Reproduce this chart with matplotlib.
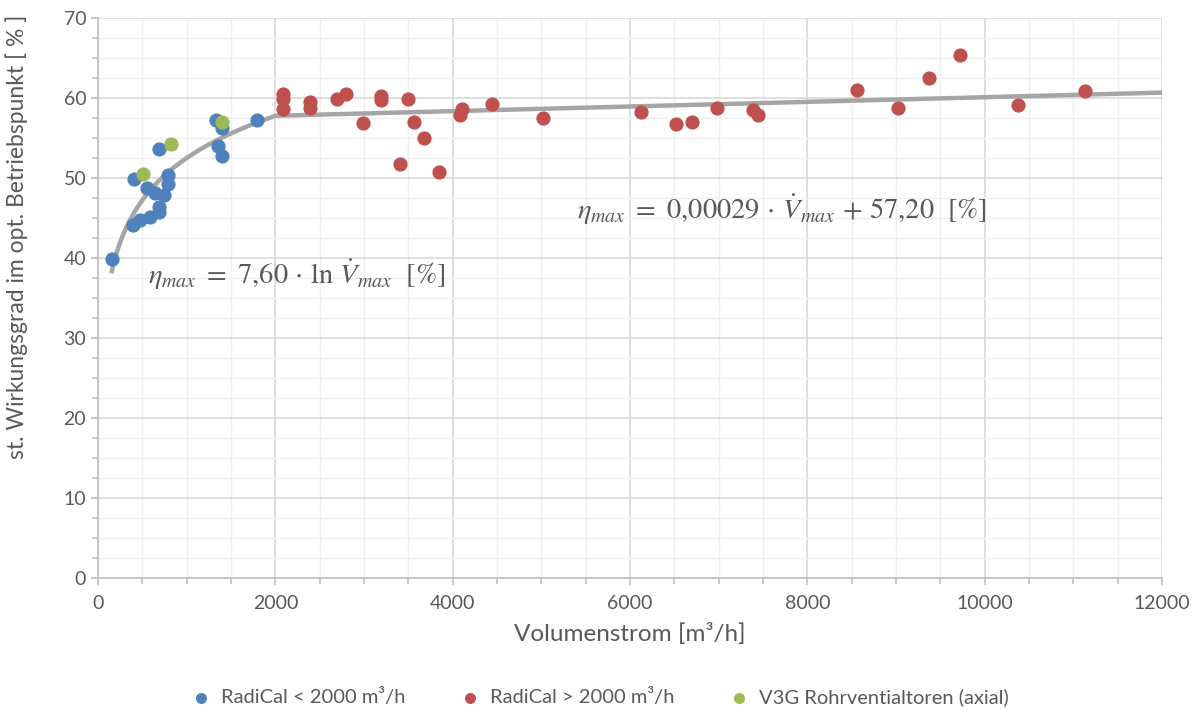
import matplotlib.pyplot as plt
import numpy as np
from matplotlib.ticker import MultipleLocator

plt.rcParams['font.family'] = ['Lato', 'DejaVu Sans']
plt.rcParams['mathtext.fontset'] = 'stix'

# Messpunkte: Volumenstrom [m³/h] und Wirkungsgrad [%]
radical_small_v = [154, 391, 410, 474, 549, 586, 643, 692, 692, 688, 744, 793, 793,
                   1331, 1350, 1395, 1395, 1790]
radical_small_eta = [39.9, 44.1, 49.9, 44.7, 48.8, 45.1, 48.1, 46.4, 45.7, 53.6, 47.9, 50.4, 49.3,
                     57.3, 54.0, 56.2, 52.8, 57.3]

radical_large_v = [2090, 2090, 2090, 2391, 2391, 2692, 2797, 2992, 3192, 3192, 3406, 3493,
                   3564, 3677, 3849, 4083, 4101, 4440, 5015, 6128, 6520, 6700, 6982, 7386,
                   7438, 8561, 9017, 9367, 9721, 10374, 11131]
radical_large_eta = [60.5, 59.9, 58.6, 59.5, 58.7, 59.9, 60.5, 56.9, 60.2, 59.8, 51.7, 59.9,
                     57.0, 55.0, 50.8, 57.9, 58.6, 59.2, 57.5, 58.2, 56.8, 57.0, 58.8, 58.5,
                     57.9, 61.0, 58.7, 62.5, 65.4, 59.1, 60.9]

v3g_v = [503, 823, 1395]
v3g_eta = [50.5, 54.2, 57.0]

# Ausgleichskurven
log_coef = 7.60
lin_slope = 0.00029
lin_offset = 57.20
v_start, v_break, v_end = 150, 2000, 12000

fig = plt.figure(figsize=(12.01, 7.10), dpi=100)
ax = fig.add_axes([0.0816, 0.186, 0.886, 0.7886])

v_log = np.linspace(v_start, v_break, 200)
v_lin = np.array([v_break, v_end])
v_fit = np.concatenate([v_log, v_lin])
eta_fit = np.concatenate([log_coef * np.log(v_log), lin_slope * v_lin + lin_offset])
ax.plot(v_fit, eta_fit, color='#A5A5A5', lw=3.2, zorder=2, solid_capstyle='butt')

ax.scatter(radical_small_v, radical_small_eta, s=85, color='#4F81BD', zorder=3,
           label='RadiCal < 2000 m³/h')
ax.scatter(radical_large_v, radical_large_eta, s=85, color='#C0504D', zorder=3,
           label='RadiCal > 2000 m³/h')
ax.scatter(v3g_v, v3g_eta, s=85, color='#9BBB59', zorder=3,
           label='V3G Rohrventialtoren (axial)')

ax.text(560, 37.9, r'$\eta_{max}\ =\ 7{,}60\,\cdot\,\ln\,\dot{V}_{max}\ \ [\%]$',
        fontsize=20.5, color='#595959', va='center', ha='left')
ax.text(5400, 46.0, r'$\eta_{max}\ =\ 0{,}00029\,\cdot\,\dot{V}_{max}\,+\,57{,}20\ \ [\%]$',
        fontsize=20.5, color='#595959', va='center', ha='left')

ax.set_xlim(0, 12000)
ax.set_ylim(0, 70)
ax.xaxis.set_major_locator(MultipleLocator(2000))
ax.xaxis.set_minor_locator(MultipleLocator(500))
ax.yaxis.set_major_locator(MultipleLocator(10))
ax.yaxis.set_minor_locator(MultipleLocator(2.5))

ax.grid(which='major', color='#D9D9D9', lw=1.2, zorder=0)
ax.grid(which='minor', color='#EFEFEF', lw=1.0, zorder=0)
ax.set_axisbelow(True)

for side in ['top', 'right']:
    ax.spines[side].set_visible(False)
for side in ['left', 'bottom']:
    ax.spines[side].set_color('#BFBFBF')
    ax.spines[side].set_linewidth(1.2)

ax.tick_params(which='both', colors='#BFBFBF', width=1.2, direction='out')
ax.tick_params(which='major', length=5, labelcolor='#595959', labelsize=14)
ax.tick_params(which='minor', length=4)
ax.tick_params(axis='x', pad=7)

ax.set_xlabel('Volumenstrom [m³/h]', fontsize=17.5, color='#595959', labelpad=8)
ax.set_ylabel('st. Wirkungsgrad im opt. Betriebspunkt [ % ]', fontsize=16.5,
              color='#595959')
ax.yaxis.set_label_coords(-0.066, 0.61)

leg = fig.legend(loc='lower center', bbox_to_anchor=(0.495, -0.02), ncol=3, frameon=False,
                 fontsize=14.5, handletextpad=0.0, columnspacing=2.2, markerscale=0.75)
for t in leg.get_texts():
    t.set_color('#595959')

fig.savefig('out.png', dpi=100)
plt.close(fig)
